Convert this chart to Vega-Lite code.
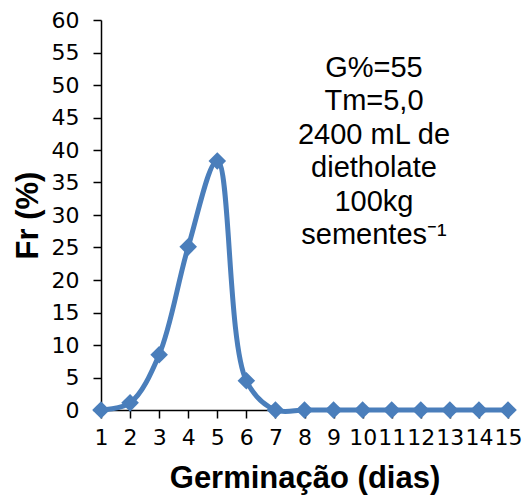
{
  "$schema": "https://vega.github.io/schema/vega-lite/v6.json",
  "width": 407,
  "height": 390,
  "autosize": {"type": "none"},
  "padding": {"left": 101, "top": 20, "right": 14, "bottom": 88},
  "background": "white",
  "config": {"view": {"stroke": null}},
  "datasets": {
    "fr": [
      {"dia": 1, "fr": 0},
      {"dia": 2, "fr": 1.1},
      {"dia": 3, "fr": 8.5},
      {"dia": 4, "fr": 25.1},
      {"dia": 5, "fr": 38.3},
      {"dia": 6, "fr": 4.5},
      {"dia": 7, "fr": 0},
      {"dia": 8, "fr": 0},
      {"dia": 9, "fr": 0},
      {"dia": 10, "fr": 0},
      {"dia": 11, "fr": 0},
      {"dia": 12, "fr": 0},
      {"dia": 13, "fr": 0},
      {"dia": 14, "fr": 0},
      {"dia": 15, "fr": 0}
    ],
    "note": [
      {"dia": 10.39, "fr": 51.3, "label": "G%=55\nTm=5,0\n2400 mL de\ndietholate\n100kg\nsementes⁻¹"}
    ]
  },
  "encoding": {
    "x": {
      "field": "dia", "type": "quantitative",
      "scale": {"domain": [1, 15], "nice": false, "zero": false},
      "axis": {
        "title": "Germinação (dias)",
        "values": [1,2,3,4,5,6,7,8,9,10,11,12,13,14,15],
        "grid": false,
        "domainColor": "black", "domainWidth": 1.5,
        "tickColor": "black", "tickWidth": 1.5, "tickSize": 8,
        "labelFont": "DejaVu Sans", "labelFontSize": 22, "labelColor": "black",
        "labelPadding": 9, "labelOverlap": false, "labelFlush": false,
        "titleFont": "Liberation Sans", "titleFontSize": 31, "titleFontWeight": "bold", "titleColor": "black",
        "titlePadding": 15
      }
    },
    "y": {
      "field": "fr", "type": "quantitative",
      "scale": {"domain": [0, 60], "nice": false},
      "axis": {
        "title": "Fr (%)",
        "values": [0,5,10,15,20,25,30,35,40,45,50,55,60],
        "grid": false,
        "domainColor": "black", "domainWidth": 1.5,
        "tickColor": "black", "tickWidth": 1.5, "tickSize": 8,
        "labelFont": "DejaVu Sans", "labelFontSize": 22, "labelColor": "black",
        "labelPadding": 14, "labelFlush": false, "labelOverlap": false,
        "titleFont": "Liberation Sans", "titleFontSize": 31, "titleFontWeight": "bold", "titleColor": "black",
        "titlePadding": 7
      }
    }
  },
  "layer": [
    {
      "data": {"name": "fr"},
      "mark": {"type": "line", "interpolate": "catmull-rom", "color": "#4A7EBB", "strokeWidth": 5, "clip": false}
    },
    {
      "data": {"name": "fr"},
      "mark": {"type": "point", "shape": "diamond", "filled": true, "opacity": 1, "size": 310, "color": "#4A7EBB", "clip": false}
    },
    {
      "data": {"name": "note"},
      "mark": {"type": "text", "font": "Liberation Sans", "fontSize": 29, "lineHeight": 33.5, "lineBreak": "\n", "align": "center", "baseline": "alphabetic", "color": "black"},
      "encoding": {
        "text": {"field": "label"}
      }
    }
  ]
}
